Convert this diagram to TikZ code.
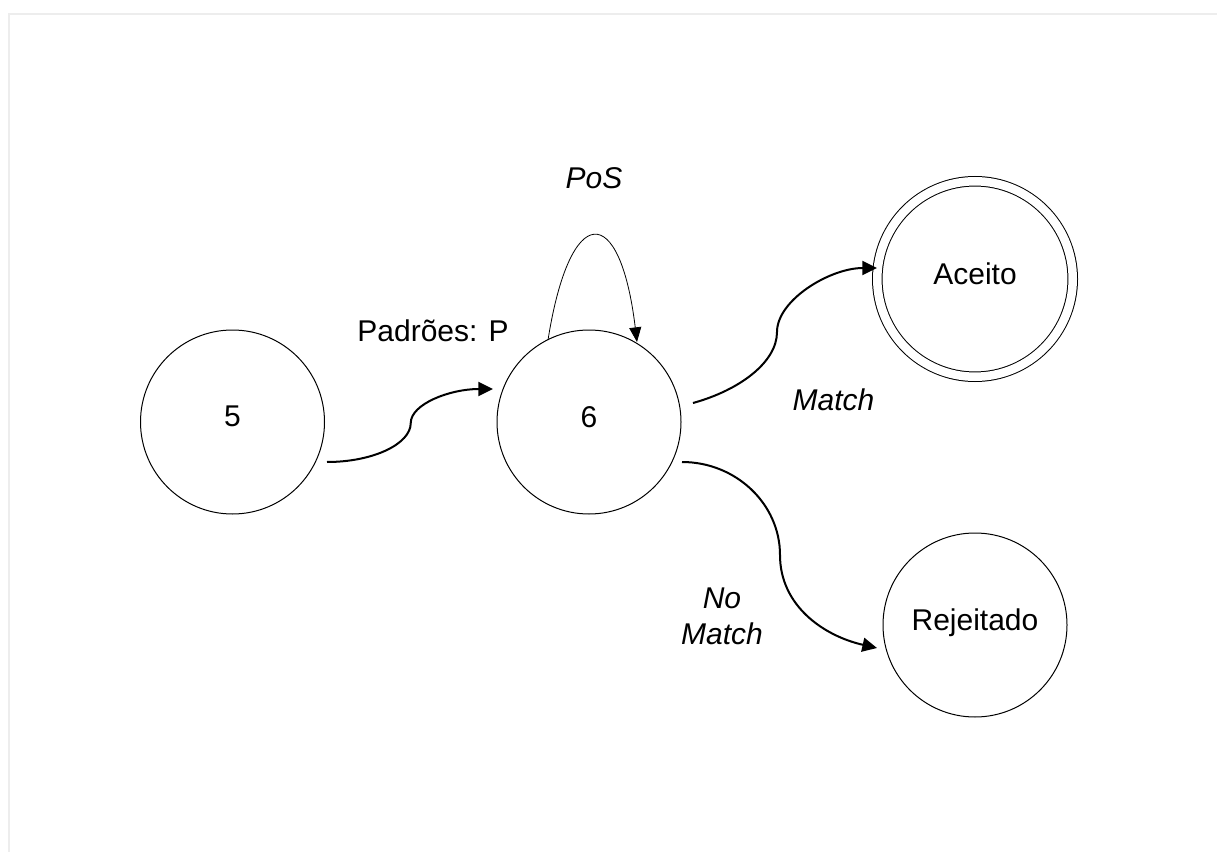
\documentclass[tikz,border=0pt]{standalone}
\usepackage{fontspec}
\setmainfont{Liberation Sans}
\usetikzlibrary{arrows.meta,calc}

\begin{document}
\begin{tikzpicture}[x=0.75pt,y=-0.75pt,
  every node/.style={font=\fontsize{22.5}{27}\selectfont},
  state/.style={circle,draw,line width=0.75pt,minimum size=138pt,inner sep=0pt,text depth=8pt},
  final/.style={state,minimum size=146.6pt,double,double distance=6.4pt},
  trans/.style={line width=1.5pt,-{Triangle[length=11pt,width=10.5pt]}},
  selfloop/.style={line width=0.6pt,-{Triangle[length=11pt,width=9pt]}},
  lbl/.style={anchor=base,inner sep=0pt},
  frameline/.style={draw=black!7,line width=1.5pt}]

  % page and faint frame
  \fill[white] (0,0) rectangle (1217,852);
  \useasboundingbox (0,0) rectangle (1217,852);
  \draw[frameline] (9,852) -- (9,14) -- (1217,14);

  % states
  \node[state] (n5)  at (232.5,422) {5};
  \node[state] (n6)  at (589,422)   {6};
  \node[final] (acc) at (975,279)   {Aceito};
  \node[state] (rej) at (975,625)   {Rejeitado};

  % end points and turning points of the transitions
  \coordinate (a1) at ($(n5.center)+(94.5,40)$);
  \coordinate (m1) at ($(n5.center)!0.5!(n6.center)+(0,1)$);
  \coordinate (b1) at ($(n6.center)+(-96,-33)$);

  \coordinate (a2) at ($(n6.center)+(104,-19)$);
  \coordinate (m2) at ($(n6.center)+(188,-90)$);
  \coordinate (b2) at ($(acc.center)+(-98,-11)$);

  \coordinate (a3) at ($(n6.center)+(93,40)$);
  \coordinate (m3) at ($(n6.center)+(191,133)$);
  \coordinate (b3) at ($(rej.center)+(-98,23)$);

  \coordinate (a4) at ($(n6.center)+(-41,-82)$);
  \coordinate (b4) at ($(n6.center)+(48,-80)$);

  % transitions
  \draw[trans] (a1) .. controls +(46,0) and +(0,21) .. (m1)
                    .. controls +(0,-19) and +(-43,0) .. (b1);
  \draw[trans] (a2) .. controls +(47,-13) and +(0,30) .. (m2)
                    .. controls +(0,-32) and +(-47,0) .. (b2);
  \draw[trans] (a3) .. controls +(54,0) and +(0,-51) .. (m3)
                    .. controls +(0,51) and +(-53,-12) .. (b3);
  \draw[selfloop] (a4) .. controls +(22,-139) and +(-17,-141) .. (b4);

  % transition labels
  \node[lbl] (lp)  at (433,341) {Padrões: P};
  \node[lbl] (lpos) at (594,189) {\itshape PoS};
  \node[lbl] (lm)  at (833.5,410) {\itshape Match};
  \node[align=center,inner sep=0pt] (lnm) at (722,616) {\itshape No\\\itshape Match};
\end{tikzpicture}
\end{document}
